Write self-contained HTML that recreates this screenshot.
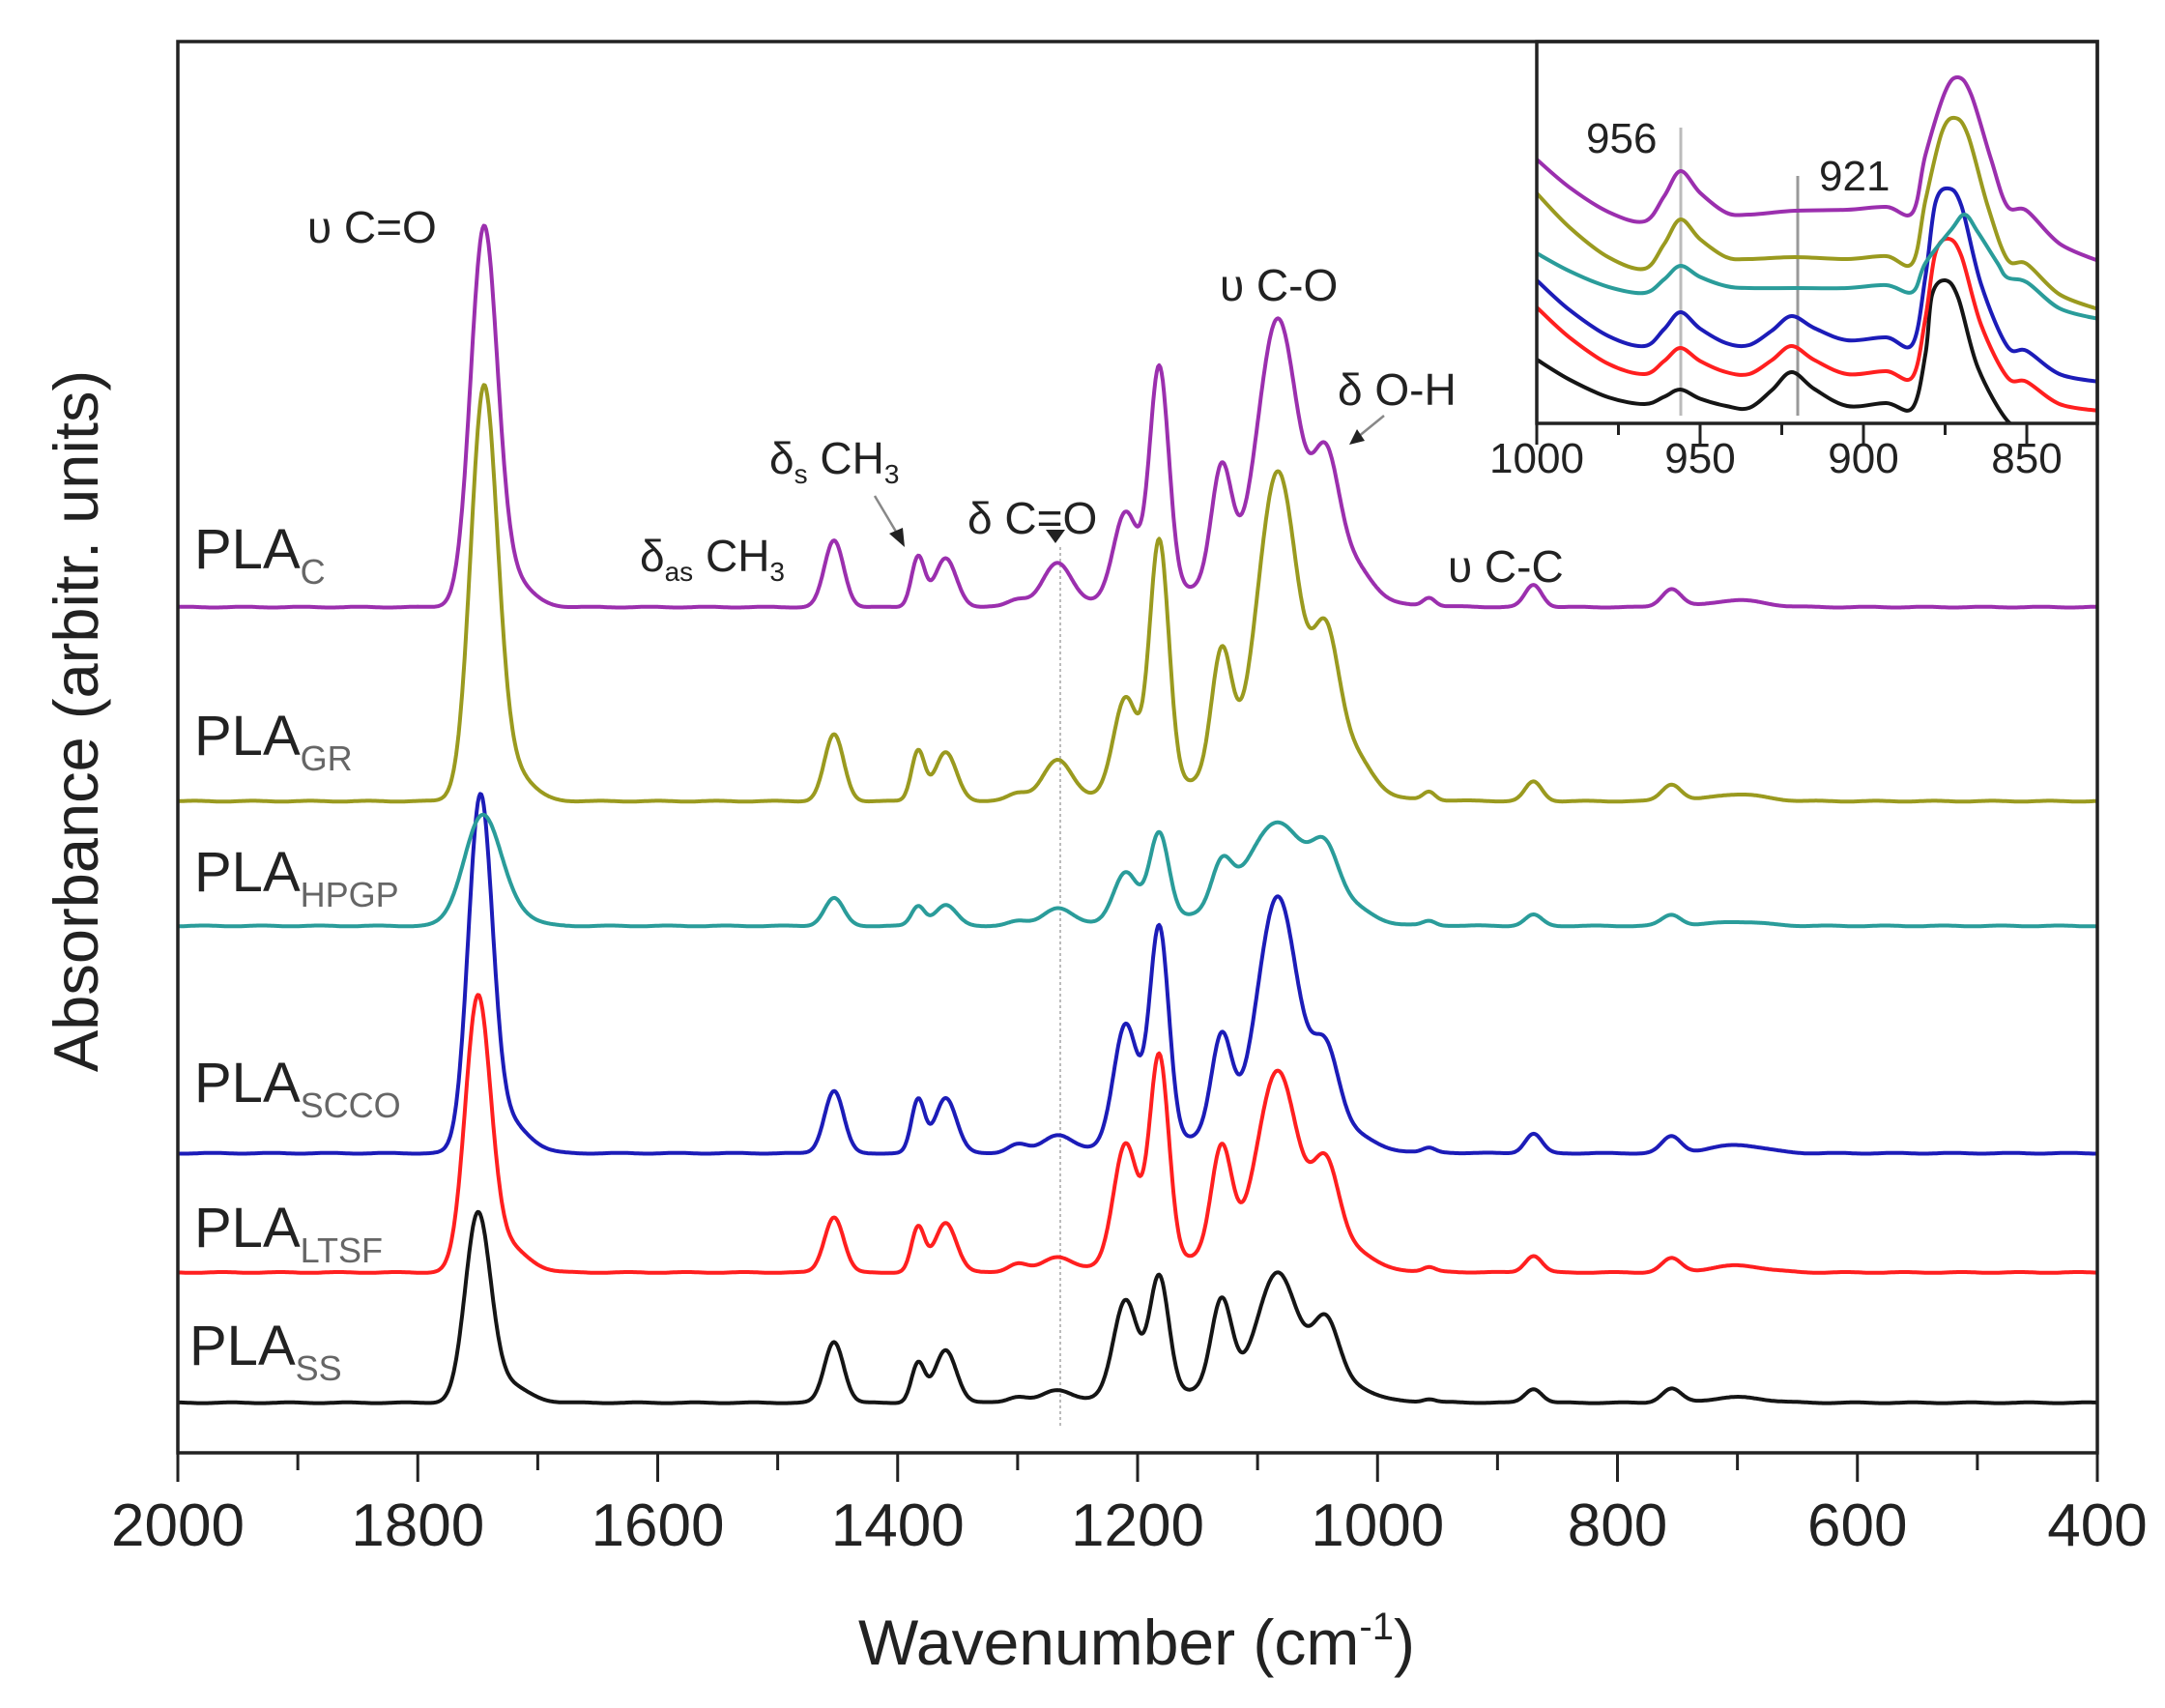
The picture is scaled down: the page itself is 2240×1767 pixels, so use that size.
<!DOCTYPE html>
<html><head><meta charset="utf-8"><style>
html,body{margin:0;padding:0;background:#fff}
svg{display:block}
text{font-family:"Liberation Sans",sans-serif;fill:#222}
</style></head><body>
<svg id="s" width="2240" height="1767" viewBox="0 0 2240 1767" xmlns="http://www.w3.org/2000/svg">
<defs>
<clipPath id="cm"><rect x="184" y="43" width="1986" height="1460"/></clipPath>
<clipPath id="ci"><rect x="1590" y="43" width="580" height="395"/></clipPath>
</defs>
<rect width="2240" height="1767" fill="#fff"/>
<line x1="1097" y1="566" x2="1097" y2="1477" stroke="#bbb" stroke-width="2" stroke-dasharray="3,3"/>
<g id="main" clip-path="url(#cm)" fill="none" stroke-width="4" stroke-linejoin="round"></g>
<rect x="1590" y="43" width="580" height="395" fill="#fff"/>
<line x1="1739" y1="132" x2="1739" y2="430" stroke="#bbb" stroke-width="3"/>
<line x1="1860" y1="182" x2="1860" y2="430" stroke="#999" stroke-width="3"/>
<g id="ins" clip-path="url(#ci)" fill="none" stroke-width="4" stroke-linejoin="round"></g>
<rect x="184" y="43" width="1986" height="1460" fill="none" stroke="#222" stroke-width="3.5"/>
<rect x="1590" y="43" width="580" height="395" fill="none" stroke="#222" stroke-width="3.5"/>
<g id="ticks" stroke="#222" stroke-width="3"></g>
<g font-size="62" text-anchor="middle" id="xl"></g>
<g font-size="44" text-anchor="middle" id="il"></g>
<text x="1176" y="1722" font-size="66" text-anchor="middle">Wavenumber (cm<tspan font-size="40" dy="-26">-1</tspan><tspan dy="26">)</tspan></text>
<text transform="translate(101,746) rotate(-90)" font-size="65" text-anchor="middle">Absorbance (arbitr. units)</text>
<g font-size="58">
<text x="201" y="588">PLA<tspan font-size="36" fill="#666" dy="16">C</tspan></text>
<text x="201" y="781">PLA<tspan font-size="36" fill="#666" dy="16">GR</tspan></text>
<text x="201" y="922">PLA<tspan font-size="36" fill="#666" dy="16">HPGP</tspan></text>
<text x="201" y="1140">PLA<tspan font-size="36" fill="#666" dy="16">SCCO</tspan></text>
<text x="201" y="1290">PLA<tspan font-size="36" fill="#666" dy="16">LTSF</tspan></text>
<text x="196" y="1412">PLA<tspan font-size="36" fill="#666" dy="16">SS</tspan></text>
</g>
<g font-size="46">
<text x="318" y="251">υ C=O</text>
<text x="1262" y="311">υ C-O</text>
<text x="1384" y="419">δ O-H</text>
<text x="796" y="490">δ<tspan font-size="28" dy="10">s</tspan><tspan dy="-10"> CH</tspan><tspan font-size="28" dy="10">3</tspan></text>
<text x="662" y="591">δ<tspan font-size="28" dy="10">as</tspan><tspan dy="-10"> CH</tspan><tspan font-size="28" dy="10">3</tspan></text>
<text x="1001" y="552">δ C=O</text>
<text x="1498" y="602">υ C-C</text>
</g>
<line x1="905" y1="513" x2="930" y2="555" stroke="#888" stroke-width="2.5"/>
<polygon points="936,566 920,552 934,546" fill="#222"/>
<polygon points="1092,562 1082,548 1102,548" fill="#222"/>
<line x1="1432" y1="430" x2="1405" y2="452" stroke="#888" stroke-width="2.5"/>
<polygon points="1396,460 1404,444 1412,456" fill="#222"/>
<g font-size="44">
<text x="1641" y="158">956</text>
<text x="1882" y="197">921</text>
</g>
</svg>
<script>
var NS="http://www.w3.org/2000/svg";
function X(w){return 184+(2000-w)*1.24125;}
var cols=["#9b2fae","#9a9a1f","#2a9c9a","#1c1cb8","#ff1f1f","#151515"];
var base=[438,578,668,832,918,1012];
var mp=[1745,1745,1747,1748,1750,1750];
var ms=[11,11,15,10,10.5,10.5];
var A={
tail:[25,28,12,25,20,14],p1452:[48,48,20,45,40,44],p1382:[36,36,14,38,32,28],p1360:[35,35,15,40,36,38],
p1300:[5,5,3,6,6,4],p1267:[30,28,12,12,10,8],p1210:[62,68,35,88,88,70],p1182:[163,178,62,155,148,84],
p1130:[85,92,32,72,78,64],p1085:[195,225,68,175,135,85],p1043:[90,100,38,62,66,50],p1020:[25,28,10,10,12,8],
broad:[15,15,8,12,12,10],p957:[6,6,3,3,3,2],p870:[16,14,8,14,12,10],p755:[13,12,8,12,10,10],p700:[5,5,3,6,5,4]};
var main=[259,282,73,246,191,131];
var P={tail:[1728,18],p1452:[1453,8],p1382:[1383,5.5],p1360:[1360,9],p1300:[1300,8],p1267:[1267,12],p1210:[1210,10],
p1182:[1182,8],p1130:[1130,8.5],p1085:[1083,17],p1043:[1043,11],p1020:[1020,15],broad:[1120,70],p957:[957,5],
p870:[870,7],p755:[755,8],p700:[700,22]};
function g(w,c,s){var d=(w-c)/s;return Math.exp(-0.5*d*d);}
var gm=document.getElementById("main");
for(var i=5;i>=0;i--){
 var d="";
 for(var w=2000;w>=400;w-=1){
  var v=main[i]*g(w,mp[i],ms[i]);
  for(var k in P){var s=P[k][1];if(k=="p1085"&&i==2)s=24;v+=A[k][i]*g(w,P[k][0],s);}
  v+=Math.sin(w*0.13+i)*0.3;
  var y=base[i]*1.434-v*1.434;
  d+=(w==2000?"M":"L")+X(w).toFixed(1)+","+y.toFixed(1);
 }
 var p=document.createElementNS(NS,"path");p.setAttribute("d",d);p.setAttribute("stroke",cols[i]);gm.appendChild(p);
}
var tg=document.getElementById("ticks"),xl=document.getElementById("xl");
function ln(x1,y1,x2,y2){var l=document.createElementNS(NS,"line");l.setAttribute("x1",x1);l.setAttribute("y1",y1);l.setAttribute("x2",x2);l.setAttribute("y2",y2);tg.appendChild(l);}
for(var w=2000;w>=400;w-=100){var maj=w%200==0;ln(X(w),1503,X(w),maj?1533:1521);
 if(maj){var t=document.createElementNS(NS,"text");t.setAttribute("x",X(w));t.setAttribute("y",1599);t.textContent=w;xl.appendChild(t);}}
function XI(w){return 1590+(1000-w)*3.38;}
var il=document.getElementById("il");
for(var w=1000;w>=850;w-=25){var maj=w%50==0;ln(XI(w),438,XI(w),maj?460:450);
 if(maj){var t=document.createElementNS(NS,"text");t.setAttribute("x",XI(w));t.setAttribute("y",489);t.textContent=w;il.appendChild(t);}}
var S=[
 [165,229,177,222,218,217,220,80,871,218,270,0],
 [200,278,227,268,266,268,272,122,872,273,320,0],
 [262,303,275,298,298,298,302,222,869,292,330,0],
 [290,358,323,357,327,352,356,195,874,363,395,1],
 [318,387,360,387,358,387,390,247,874,395,425,1],
 [372,418,403,422,385,420,422,290,875,440,470,1]];
var gi=document.getElementById("ins");
function cr(pts){var d="M"+pts[0][0]+","+pts[0][1];
 for(var i=0;i<pts.length-1;i++){var p0=pts[i-1]||pts[i],p1=pts[i],p2=pts[i+1],p3=pts[i+2]||p2;
  d+="C"+(p1[0]+(p2[0]-p0[0])/6).toFixed(1)+","+(p1[1]+(p2[1]-p0[1])/6).toFixed(1)+" "+(p2[0]-(p3[0]-p1[0])/6).toFixed(1)+","+(p2[1]-(p3[1]-p1[1])/6).toFixed(1)+" "+p2[0].toFixed(1)+","+p2[1].toFixed(1);}
 return d;}
for(var i=5;i>=0;i--){var s=S[i];
 var y0=s[0],yd=s[1],y956=s[2],y940=s[3],y921=s[4],yf=s[5],y885=s[6],yp=s[7],pp=s[8],y850=s[9],ye=s[10];
 var pts=[[1000,y0],[990,y0+(yd-y0)*0.45],[978,y0+(yd-y0)*0.85],[967,yd],[961,(yd+y956)/2],[956,y956],[950,(y956+y940)/2],[942,y940-2],[935,y940]];
 if(s[11]){pts.push([928,(y940+y921)/2],[922,y921],[915,(y921+yf)/2],[905,yf]);}else{pts.push([921,y921],[905,yf]);}
 pts.push([893,yf-3],[885,y885],[881,(y885+yp)/2+10],[pp+4,yp+15],[pp,yp],[pp-4,yp+18],[pp-10,(yp+y850)/2+15],[856,y850-5],[850,y850],[840,(y850+ye)/2+8],[828,ye]);
 var w2=pts.map(function(q){return [XI(q[0]),q[1]];});
 var p=document.createElementNS(NS,"path");p.setAttribute("d",cr(w2));p.setAttribute("stroke",cols[i]);gi.appendChild(p);}
</script>
</body></html>
